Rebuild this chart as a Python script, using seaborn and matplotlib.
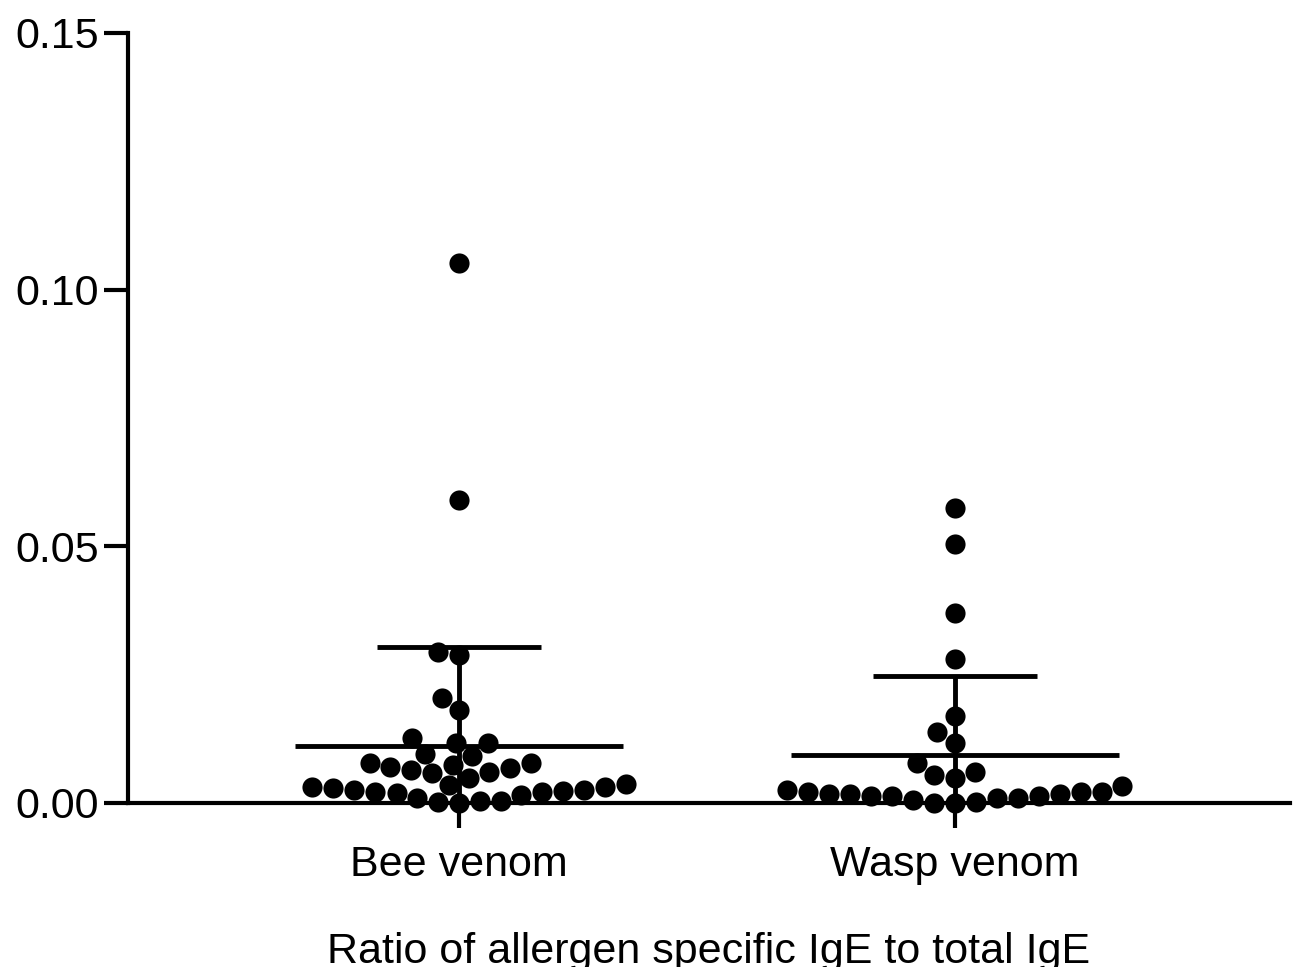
import numpy as np
import pandas as pd
import matplotlib
matplotlib.use("Agg")
import matplotlib.pyplot as plt
import seaborn as sns

# values
bee_venom = [0.1051, 0.0591, 0.0288, 0.0294, 0.0204, 0.0181,
             0.0117, 0.0117, 0.0126, 0.0091, 0.0095,
             0.0078, 0.0074, 0.0078, 0.0064, 0.0070, 0.0068,
             0.0060, 0.0058, 0.0049, 0.0037, 0.0035,
             0.0031, 0.0025, 0.0023, 0.0021, 0.0031, 0.0025, 0.0021, 0.0029, 0.0019,
             0.0016, 0.0010, 0.0004, 0.0004, 0.0002, 0.0000]
wasp_venom = [0.0574, 0.0504, 0.0370, 0.0280, 0.0169, 0.0138, 0.0117,
              0.0078, 0.0060, 0.0054, 0.0049, 0.0033, 0.0025,
              0.0021, 0.0018, 0.0010, 0.0018, 0.0014, 0.0021, 0.0018, 0.0014, 0.0021, 0.0014,
              0.0010, 0.0006, 0.0002, 0.0000, 0.0000]
groups = ["Bee venom", "Wasp venom"]
y_ticks = [0.00, 0.05, 0.10, 0.15]
x_title = "Ratio of allergen specific IgE to total IgE"

df = pd.DataFrame({
    "group": [groups[0]] * len(bee_venom) + [groups[1]] * len(wasp_venom),
    "ratio": bee_venom + wasp_venom,
})

sns.set_style("ticks")
plt.rcParams["font.family"] = ["Liberation Sans", "DejaVu Sans"]
plt.rcParams["text.color"] = "black"
plt.rcParams["xtick.labelcolor"] = "black"
plt.rcParams["ytick.labelcolor"] = "black"
plt.rcParams["axes.labelcolor"] = "black"

fig = plt.figure(figsize=(12.94, 9.67), dpi=100)
ax = fig.add_axes([0.0989, 0.1696, 0.8980, 0.7963])

sns.swarmplot(data=df, x="group", y="ratio", order=groups, color="black",
              size=14.5, linewidth=0, ax=ax, zorder=3)
for c in ax.collections:
    c.set_clip_on(False)

# mean and SD bars
stats = df.groupby("group", sort=False)["ratio"].agg(["mean", "std"])
for i, g in enumerate(groups):
    m, s = stats.loc[g, "mean"], stats.loc[g, "std"]
    ax.hlines(m, i - 0.33, i + 0.33, color="black", lw=3.5, zorder=4)
    ax.hlines(m + s, i - 0.165, i + 0.165, color="black", lw=3.5, zorder=4)
    ax.vlines(i, m - s, m + s, color="black", lw=3.5, zorder=4)

ax.set_xlim(-0.667, 1.675)
ax.set_ylim(0, 0.15)
ax.set_yticks(y_ticks)
ax.set_yticklabels([f"{t:.2f}" for t in y_ticks])
ax.set_xlabel(x_title, fontsize=31, labelpad=34, color="black")
ax.set_ylabel("")
ax.tick_params(axis="both", labelsize=31, width=3, length=17, color="black",
               labelcolor="black")
ax.tick_params(axis="x", length=18, pad=12)
ax.tick_params(axis="y", pad=4)
for side in ["top", "right"]:
    ax.spines[side].set_visible(False)
for side in ["left", "bottom"]:
    ax.spines[side].set_linewidth(3)
    ax.spines[side].set_color("black")

fig.savefig("out.png", dpi=100)
